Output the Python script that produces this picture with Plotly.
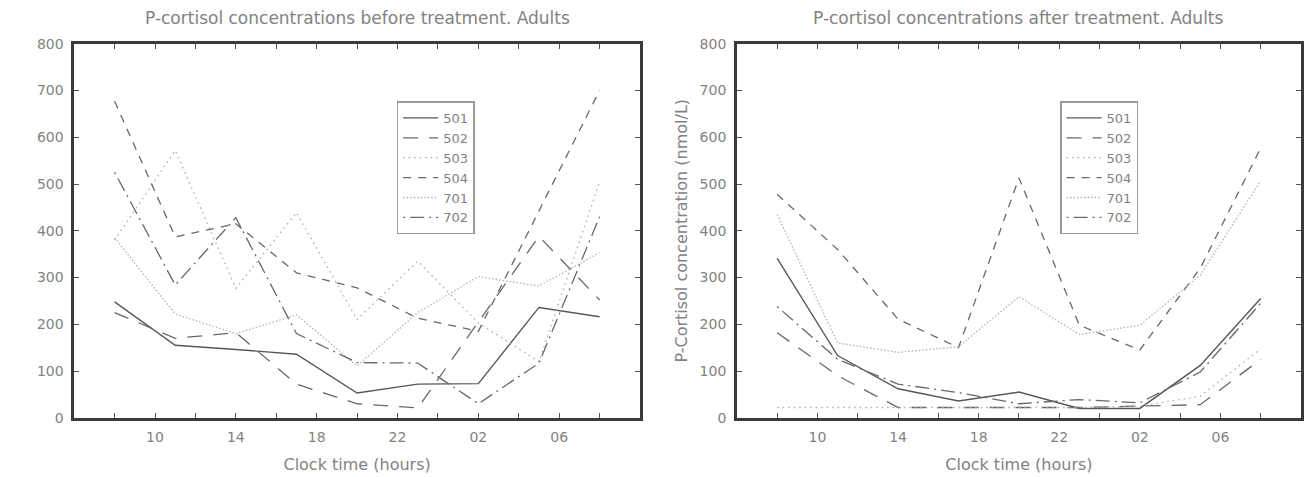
import plotly.graph_objects as go

# Sampling clock times, as hours since midnight of day 1 (26 = 02, 29 = 05, 32 = 08 next day)
hours = [8, 11, 14, 17, 20, 23, 26, 29, 32]
tick_hours = [8, 10, 12, 14, 16, 18, 20, 22, 24, 26, 28, 30, 32]
tick_text = ["", "10", "", "14", "", "18", "", "22", "", "02", "", "06", ""]
y_ticks = [0, 100, 200, 300, 400, 500, 600, 700, 800]

subjects = ["501", "502", "503", "504", "701", "702"]

# P-cortisol (nmol/L) before treatment
before_501 = [248, 155, 146, 136, 53, 72, 73, 236, 216]
before_502 = [225, 170, 182, 72, 30, 21, 205, 388, 252]
before_503 = [380, 572, 277, 439, 210, 335, 203, 120, 505]
before_504 = [677, 387, 415, 310, 278, 213, 185, 442, 700]
before_701 = [385, 222, 180, 220, 111, 225, 302, 282, 353]
before_702 = [525, 284, 428, 180, 118, 117, 30, 117, 430]

# P-cortisol (nmol/L) after treatment
after_501 = [341, 133, 62, 36, 55, 20, 20, 112, 255]
after_502 = [182, 90, 22, 22, 22, 22, 25, 28, 125]
after_503 = [22, 22, 22, 22, 22, 22, 25, 46, 147]
after_504 = [478, 360, 211, 150, 513, 198, 145, 320, 577]
after_701 = [435, 160, 140, 152, 259, 178, 198, 305, 507]
after_702 = [238, 125, 72, 54, 30, 39, 32, 98, 245]

before = [before_501, before_502, before_503, before_504, before_701, before_702]
after = [after_501, after_502, after_503, after_504, after_701, after_702]

line_styles = {
    "501": dict(color="#585858", width=1.4, dash="solid"),
    "502": dict(color="#686868", width=1.3, dash="15px,11px"),
    "503": dict(color="#ababab", width=1.3, dash="1.5px,4px"),
    "504": dict(color="#686868", width=1.3, dash="8px,7px"),
    "701": dict(color="#b3b3b3", width=1.3, dash="1.5px,2px"),
    "702": dict(color="#686868", width=1.3, dash="2px,5px,14px,5px"),
}

FONT = "DejaVu Sans"
TEXT_GREY = "#828282"

fig = go.Figure()

for name, vals in zip(subjects, before):
    fig.add_trace(go.Scatter(x=hours, y=vals, mode="lines", name=name,
                             line=line_styles[name], xaxis="x", yaxis="y",
                             legend="legend"))
for name, vals in zip(subjects, after):
    fig.add_trace(go.Scatter(x=hours, y=vals, mode="lines", name=name,
                             line=line_styles[name], xaxis="x2", yaxis="y2",
                             legend="legend2"))

W, H = 1304, 477
left_dom = [74.3 / W, 641 / W]
right_dom = [738 / W, 1303 / W]
y_dom = [53 / H, 440 / H]

axis_common = dict(
    showline=True, linewidth=2.5, linecolor="#3a3a3a", mirror="allticks",
    ticks="inside", ticklen=5, tickwidth=1, tickcolor="#555555",
    showgrid=False, zeroline=False,
    tickfont=dict(family=FONT, size=14, color=TEXT_GREY),
)

x_common = dict(axis_common, range=[6, 34], tickmode="array",
                tickvals=tick_hours, ticktext=tick_text, ticklabelstandoff=5)
y_common = dict(axis_common, range=[0, 800], tickmode="array",
                tickvals=y_ticks, ticktext=[str(v) for v in y_ticks],
                ticklabelstandoff=5)

xtitle = dict(text="Clock time (hours)", font=dict(family=FONT, size=16, color=TEXT_GREY),
              standoff=15)

legend_common = dict(
    bgcolor="white", bordercolor="#9a9a9a", borderwidth=1.5,
    font=dict(family=FONT, size=13, color=TEXT_GREY),
    xanchor="left", yanchor="top", itemwidth=35,
    itemclick=False, itemdoubleclick=False,
)

fig.update_layout(
    width=W, height=H,
    margin=dict(l=0, r=0, t=0, b=0),
    paper_bgcolor="white", plot_bgcolor="white",
    xaxis=dict(x_common, domain=left_dom, anchor="y", title=xtitle),
    yaxis=dict(y_common, domain=y_dom, anchor="x"),
    xaxis2=dict(x_common, domain=right_dom, anchor="y2", title=xtitle),
    yaxis2=dict(y_common, domain=y_dom, anchor="x2",
                title=dict(text="P-Cortisol concentration (nmol/L)",
                           font=dict(family=FONT, size=16, color=TEXT_GREY),
                           standoff=8)),
    legend=dict(legend_common, x=397.3 / W, y=1 - 96.7 / H),
    legend2=dict(legend_common, x=1061.7 / W, y=1 - 96.7 / H),
    annotations=[
        dict(text="P-cortisol concentrations before treatment. Adults",
             x=sum(left_dom) / 2, y=1 - 10 / H, xref="paper", yref="paper",
             xanchor="center", yanchor="middle", showarrow=False,
             font=dict(family=FONT, size=17, color=TEXT_GREY)),
        dict(text="P-cortisol concentrations after treatment. Adults",
             x=sum(right_dom) / 2, y=1 - 10 / H, xref="paper", yref="paper",
             xanchor="center", yanchor="middle", showarrow=False,
             font=dict(family=FONT, size=17, color=TEXT_GREY)),
    ],
)

fig.write_html("out.html")
